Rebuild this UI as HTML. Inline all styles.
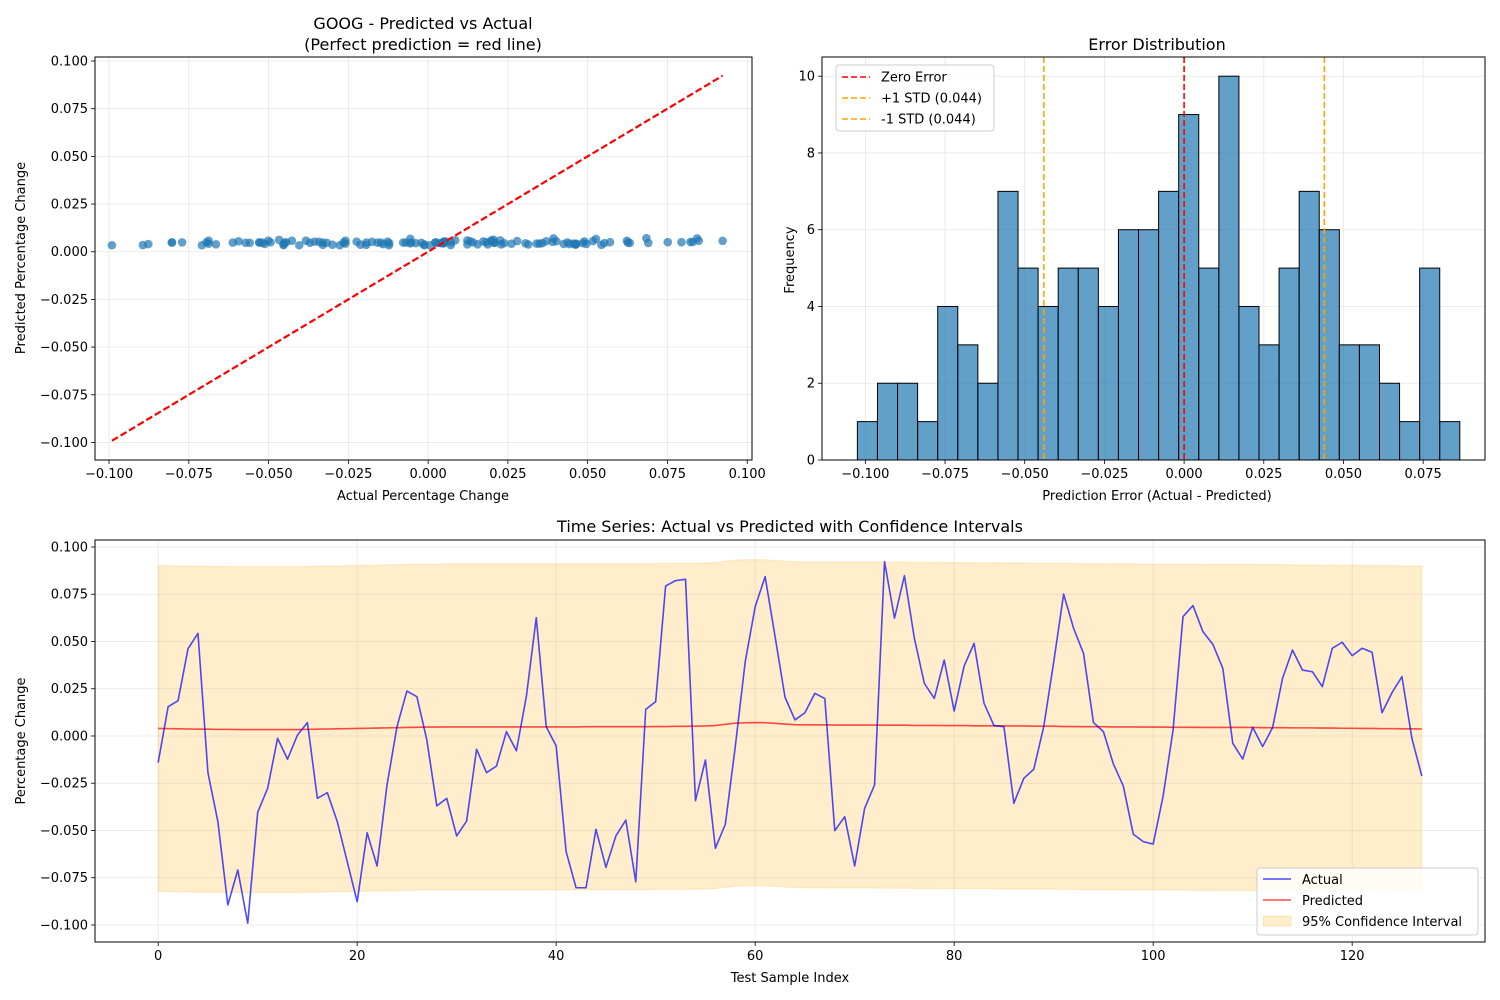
<!DOCTYPE html>
<html><head><meta charset="utf-8">
<style>
html,body{margin:0;padding:0;background:#fff;}
svg{display:block;font-family:"DejaVu Sans","Liberation Sans",sans-serif;}
</style></head>
<body>
<svg id="fig" width="1500" height="1000" viewBox="0 0 1500 1000" xmlns="http://www.w3.org/2000/svg">
<rect width="1500" height="1000" fill="#fff"/>
<text x="423" y="29" font-size="16" text-anchor="middle">GOOG - Predicted vs Actual</text>
<text x="423" y="50" font-size="16" text-anchor="middle">(Perfect prediction = red line)</text>
<text x="423" y="500" font-size="13" text-anchor="middle">Actual Percentage Change</text>
<text transform="translate(25,258) rotate(-90)" font-size="13" text-anchor="middle">Predicted Percentage Change</text>
<text x="1157" y="50" font-size="16" text-anchor="middle">Error Distribution</text>
<text x="1157" y="500" font-size="13" text-anchor="middle">Prediction Error (Actual - Predicted)</text>
<text transform="translate(794,260) rotate(-90)" font-size="13" text-anchor="middle">Frequency</text>
<text x="790" y="532" font-size="16" text-anchor="middle">Time Series: Actual vs Predicted with Confidence Intervals</text>
<text x="790" y="982" font-size="13" text-anchor="middle">Test Sample Index</text>
<text transform="translate(25,741) rotate(-90)" font-size="13" text-anchor="middle">Percentage Change</text>
</svg>
<script>
// ---- data ----
const actual = [-0.0141,0.0155,0.0187,0.0462,0.0543,-0.0194,-0.0453,-0.0894,-0.0709,-0.0991,
-0.0404,-0.0277,-0.0012,-0.0123,0.0005,0.0071,-0.0330,-0.0300,-0.0453,-0.0665,
-0.0877,-0.0512,-0.0688,-0.0259,0.0049,0.0238,0.0208,-0.0021,-0.0370,-0.0330,
-0.0529,-0.0450,-0.0070,-0.0194,-0.0159,0.0023,-0.0078,0.0208,0.0626,0.0049,
-0.0053,-0.0612,-0.0803,-0.0803,-0.0494,-0.0695,-0.0529,-0.0445,-0.0771,0.0141,
0.0182,0.0794,0.0822,0.0829,-0.0342,-0.0127,-0.0594,-0.0467,-0.0056,0.0393,
0.0684,0.0843,0.0526,0.0205,0.0085,0.0123,0.0226,0.0198,-0.0501,-0.0427,
-0.0688,-0.0383,-0.0259,0.0923,0.0623,0.0848,0.0517,0.0279,0.0199,0.0402,
0.0132,0.0370,0.0490,0.0173,0.0055,0.0049,-0.0356,-0.0224,-0.0176,0.0049,
0.0390,0.0751,0.0570,0.0437,0.0071,0.0023,-0.0148,-0.0265,-0.0519,-0.0559,
-0.0572,-0.0318,0.0032,0.0632,0.0690,0.0552,0.0485,0.0358,-0.0039,-0.0122,
0.0046,-0.0056,0.0044,0.0305,0.0455,0.0349,0.0340,0.0261,0.0464,0.0496,
0.0425,0.0464,0.0443,0.0123,0.0229,0.0314,-0.0012,-0.0212];
const predicted = [0.0040,0.0039,0.0038,0.0037,0.0036,0.0036,0.0035,0.0035,0.0034,0.0034,
0.0034,0.0034,0.0034,0.0034,0.0034,0.0035,0.0036,0.0037,0.0038,0.0039,
0.0040,0.0041,0.0042,0.0043,0.0044,0.0045,0.0046,0.0047,0.0047,0.0048,
0.0048,0.0048,0.0048,0.0048,0.0048,0.0048,0.0048,0.0048,0.0048,0.0048,
0.0048,0.0048,0.0048,0.0049,0.0049,0.0049,0.0049,0.0049,0.0049,0.0049,
0.0050,0.0050,0.0051,0.0051,0.0052,0.0053,0.0055,0.0062,0.0068,0.0070,
0.0071,0.0070,0.0067,0.0063,0.0060,0.0059,0.0059,0.0059,0.0058,0.0058,
0.0058,0.0058,0.0058,0.0057,0.0057,0.0057,0.0056,0.0056,0.0056,0.0055,
0.0055,0.0055,0.0054,0.0054,0.0054,0.0053,0.0053,0.0053,0.0052,0.0052,
0.0052,0.0050,0.0050,0.0049,0.0049,0.0049,0.0048,0.0048,0.0048,0.0047,
0.0047,0.0047,0.0046,0.0046,0.0046,0.0045,0.0045,0.0045,0.0045,0.0045,
0.0045,0.0044,0.0044,0.0044,0.0043,0.0043,0.0043,0.0042,0.0042,0.0041,
0.0041,0.0040,0.0040,0.0039,0.0039,0.0038,0.0038,0.0037];
const errStd = 0.044;
const ciFactor = 1.96;
const histCounts = [1,2,2,1,4,3,2,7,5,4,5,5,4,6,6,7,9,5,10,4,3,5,7,6,3,3,2,1,5,1];
const histStart = -0.1025;
const histBinWidth = 0.0063;
const scatterXTicks = [-0.100,-0.075,-0.050,-0.025,0.000,0.025,0.050,0.075,0.100];
const scatterYTicks = [-0.100,-0.075,-0.050,-0.025,0.000,0.025,0.050,0.075,0.100];
const histXTicks = [-0.100,-0.075,-0.050,-0.025,0.000,0.025,0.050,0.075];
const histYTicks = [0,2,4,6,8,10];
const tsXTicks = [0,20,40,60,80,100,120];
const tsYTicks = [-0.100,-0.075,-0.050,-0.025,0.000,0.025,0.050,0.075,0.100];

const NS="http://www.w3.org/2000/svg";
const svg=document.getElementById('fig');
function mk(tag,attrs,parent){const e=document.createElementNS(NS,tag);for(const k in attrs)e.setAttribute(k,attrs[k]);(parent||svg).appendChild(e);return e;}
function lin(d0,d1,r0,r1){return v=>r0+(v-d0)/(d1-d0)*(r1-r0);}
function fmt3(v){return (v<0?'\u2212':'')+Math.abs(v).toFixed(3);}

function axesFrame(name,L,T,R,B,xs,ys,xt,yt,xfmt,yfmt){
  const g=mk('g',{});
  
  
  xt.forEach(v=>{const x=xs(v);
    const gl=mk('line',{x1:x,x2:x,y1:T,y2:B,stroke:'#b0b0b0','stroke-opacity':0.3,'stroke-width':0.8},g);
    
    
    const tk=mk('line',{x1:x,x2:x,y1:B,y2:B+4,stroke:'#000','stroke-width':0.8},g);
    
    
    const tl=mk('text',{x:x,y:B+18,'font-size':13,'text-anchor':'middle'},g);tl.textContent=xfmt(v);
    
    
  });
  yt.forEach(v=>{const y=ys(v);
    const gl=mk('line',{x1:L,x2:R,y1:y,y2:y,stroke:'#b0b0b0','stroke-opacity':0.3,'stroke-width':0.8},g);
    
    
    const tk=mk('line',{x1:L-4,x2:L,y1:y,y2:y,stroke:'#000','stroke-width':0.8},g);
    
    
    const tl=mk('text',{x:L-7,y:y+4.5,'font-size':13,'text-anchor':'end'},g);tl.textContent=yfmt(v);
    
    
  });
  return g;
}
function spines(name,L,T,R,B){
  const r=mk('rect',{x:L,y:T,width:R-L,height:B-T,fill:'none',stroke:'#000','stroke-width':1});
  
  
}

// ---- scatter ----
{
const L=95,T=57,R=752,B=460;
const xs=lin(-0.1044,0.1015,L,R), ys=lin(0.1021,-0.1092,T,B);
axesFrame('scatter',L,T,R,B,xs,ys,scatterXTicks,scatterYTicks,fmt3,fmt3);
const g=mk('g',{});


actual.forEach((a,i)=>{
  const c=mk('circle',{cx:xs(a),cy:ys(predicted[i]),r:4.3,fill:'#1f77b4','fill-opacity':0.7},g);
  
  
});
const mn=Math.min(...actual), mx=Math.max(...actual);
const pl=mk('line',{x1:xs(mn),y1:ys(mn),x2:xs(mx),y2:ys(mx),stroke:'#ff0000','stroke-width':2.2,'stroke-dasharray':'7,3'});


spines('scatter',L,T,R,B);
}

// ---- histogram ----
{
const L=822,T=57,R=1485,B=460;
const xs=lin(-0.1136,0.0944,L,R), ys=lin(0,10.5,B,T);
axesFrame('histogram',L,T,R,B,xs,ys,histXTicks,histYTicks,fmt3,v=>String(v));
const g=mk('g',{});


histCounts.forEach((c,i)=>{
  const x0=xs(histStart+i*histBinWidth), x1=xs(histStart+(i+1)*histBinWidth);
  const r=mk('rect',{x:x0,y:ys(c),width:x1-x0,height:ys(0)-ys(c),fill:'#1f77b4','fill-opacity':0.7,stroke:'#000','stroke-width':1},g);
  
  
});
const z=mk('line',{x1:xs(0),x2:xs(0),y1:T,y2:B,stroke:'#ff0000','stroke-width':1.6,'stroke-dasharray':'6,3'});


const p=mk('line',{x1:xs(errStd),x2:xs(errStd),y1:T,y2:B,stroke:'#ffa500','stroke-width':1.6,'stroke-dasharray':'6,3'});


const m=mk('line',{x1:xs(-errStd),x2:xs(-errStd),y1:T,y2:B,stroke:'#ffa500','stroke-width':1.6,'stroke-dasharray':'6,3'});


spines('histogram',L,T,R,B);
const lg=mk('g',{});


mk('rect',{x:836,y:65,width:158,height:66,rx:3,fill:'#fff','fill-opacity':0.8,stroke:'#ccc'},lg);
const items=[['Zero Error','#ff0000'],['+1 STD (0.044)','#ffa500'],['-1 STD (0.044)','#ffa500']];
items.forEach((it,k)=>{const y=77+k*21;
  const ln=mk('line',{x1:842,x2:870,y1:y,y2:y,stroke:it[1],'stroke-width':1.6,'stroke-dasharray':'6,3'},lg);
  
  
  const t=mk('text',{x:881,y:y+4.5,'font-size':13},lg);t.textContent=it[0];
  
  
});
}

// ---- time series ----
{
const L=95,T=540,R=1485,B=942;
const xs=lin(-6.35,133.35,L,R), ys=lin(0.1037,-0.1090,T,B);
axesFrame('timeseries',L,T,R,B,xs,ys,tsXTicks,tsYTicks,v=>String(v),fmt3);
let up='',lo='';
predicted.forEach((p,i)=>{up+=(i?'L':'M')+xs(i)+','+ys(p+ciFactor*errStd);});
for(let i=predicted.length-1;i>=0;i--){lo+='L'+xs(i)+','+ys(predicted[i]-ciFactor*errStd);}
const band=mk('path',{d:up+lo+'Z',fill:'#ffa500','fill-opacity':0.2,stroke:'#ffa500','stroke-opacity':0.2});


const pd=mk('path',{d:predicted.map((p,i)=>(i?'L':'M')+xs(i)+','+ys(p)).join(''),fill:'none',stroke:'#ff0000','stroke-opacity':0.7,'stroke-width':1.6});


const ac=mk('path',{d:actual.map((a,i)=>(i?'L':'M')+xs(i)+','+ys(a)).join(''),fill:'none',stroke:'#0000ff','stroke-opacity':0.7,'stroke-width':1.6,'stroke-linejoin':'round'});


spines('timeseries',L,T,R,B);
const lg=mk('g',{});


mk('rect',{x:1257,y:868,width:221,height:67,rx:3,fill:'#fff','fill-opacity':0.8,stroke:'#ccc'},lg);
const l1=mk('line',{x1:1263,x2:1291,y1:879,y2:879,stroke:'#0000ff','stroke-opacity':0.7,'stroke-width':1.6},lg);


const t1=mk('text',{x:1302,y:884,'font-size':13},lg);t1.textContent='Actual';


const l2=mk('line',{x1:1263,x2:1291,y1:900,y2:900,stroke:'#ff0000','stroke-opacity':0.7,'stroke-width':1.6},lg);


const t2=mk('text',{x:1302,y:905,'font-size':13},lg);t2.textContent='Predicted';


const l3=mk('rect',{x:1263,y:916,width:28,height:10,fill:'#ffa500','fill-opacity':0.2,stroke:'#ffa500','stroke-opacity':0.2},lg);


const t3=mk('text',{x:1302,y:926,'font-size':13},lg);t3.textContent='95% Confidence Interval';


}
</script>
</body></html>
